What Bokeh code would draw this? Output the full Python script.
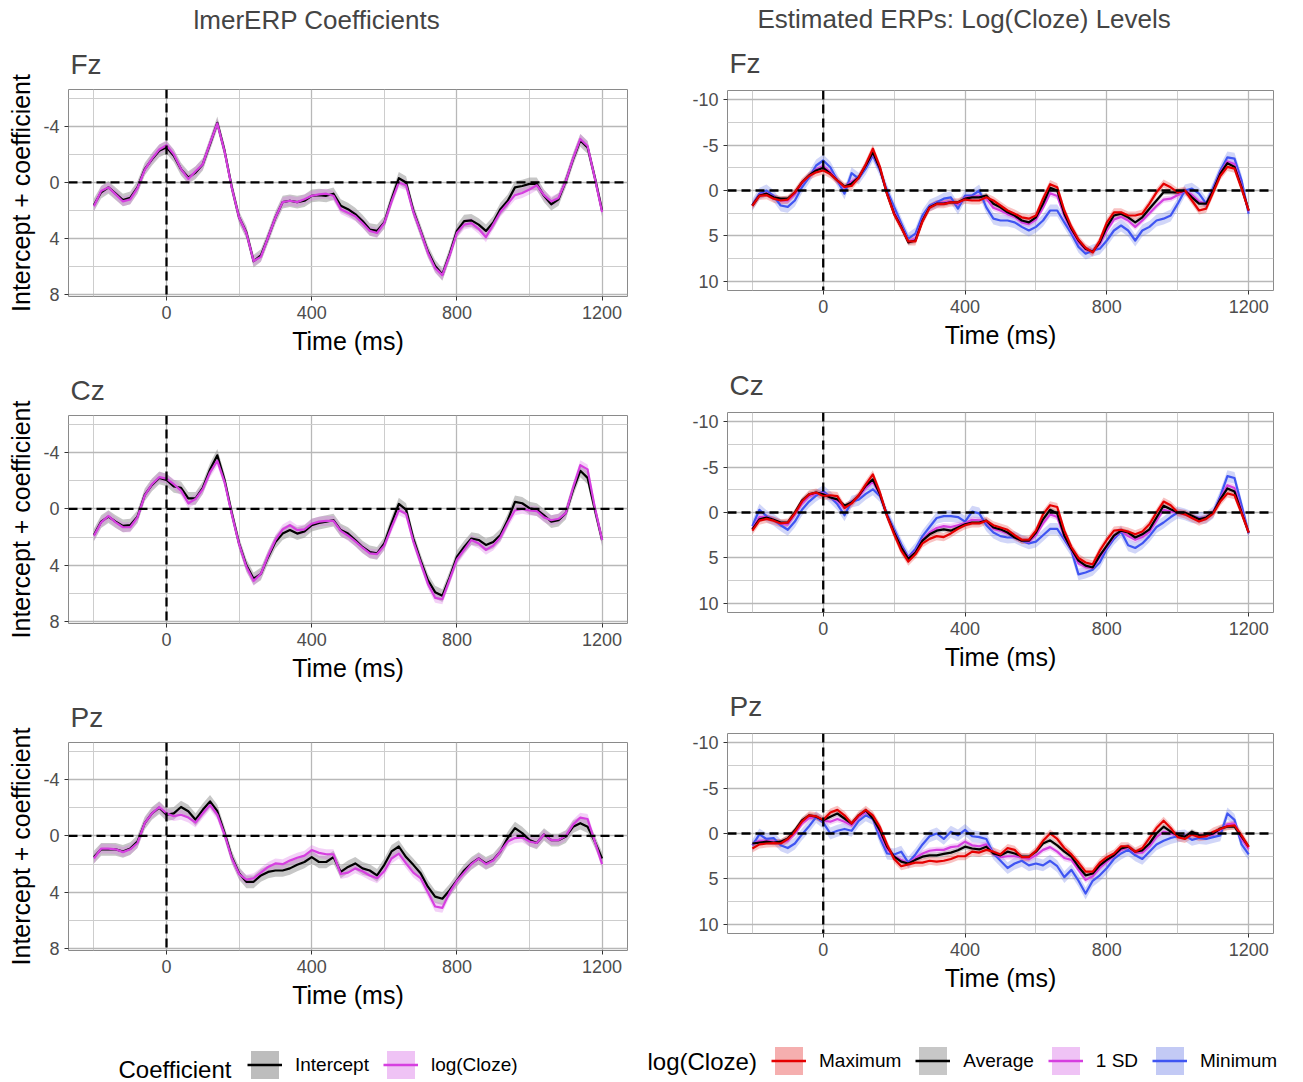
import numpy as np
from bokeh.plotting import figure
from bokeh.models import Range1d, FixedTicker, Span, Title, Legend, LegendItem, Label
from bokeh.layouts import row, column
from bokeh.embed import file_html
from bokeh.resources import INLINE

FONT = "Liberation Sans"

# ---------------- data ----------------
TIME = list(range(-200, 1201, 20))   # ms
X_TICKS = [0, 400, 800, 1200]
X_MINOR = [-200, 200, 600, 1000]
LEFT_Y_TICKS = [-4, 0, 4, 8]
LEFT_Y_MINOR = [-6, -2, 2, 6]
RIGHT_Y_TICKS = [-10, -5, 0, 5, 10]
RIGHT_Y_MINOR = [-7.5, -2.5, 2.5, 7.5]

# lmerERP coefficients (left column)
LFZ_INT = [1.6, 0.7, 0.35, 0.8, 1.25, 1.1, 0.35, -0.95, -1.65, -2.25,
           -2.5, -1.9, -0.95, -0.35, -0.7, -1.3, -2.75, -4.25, -2.25, 0.35,
           2.5, 3.55, 5.6, 5.2, 3.9, 2.5, 1.4, 1.3, 1.4, 1.3,
           0.95, 0.9, 0.95, 0.8, 1.65, 1.9, 2.25, 2.75, 3.35, 3.45,
           2.85, 1.2, -0.3, 0.0, 2.0, 3.45, 4.9, 5.95, 6.55, 5.1,
           3.45, 2.75, 2.7, 3.0, 3.45, 2.85, 1.9, 1.3, 0.35, 0.25,
           0.1, 0.1, 0.95, 1.55, 1.2, -0.1, -1.65, -3.0, -2.5, -0.35,
           2.0]
LFZ_LOG = [1.7, 0.6, 0.35, 0.85, 1.35, 1.2, 0.4, -0.9, -1.7, -2.35,
           -2.65, -2.0, -0.95, -0.25, -0.8, -1.3, -2.8, -4.2, -2.2, 0.4,
           2.5, 3.6, 5.6, 5.3, 3.9, 2.5, 1.4, 1.3, 1.4, 1.2,
           0.95, 0.85, 0.8, 0.95, 1.9, 2.15, 2.4, 2.9, 3.45, 3.6,
           2.9, 1.35, 0.0, 0.2, 2.1, 3.5, 5.0, 6.1, 6.6, 5.2,
           3.6, 3.0, 2.9, 3.3, 3.9, 3.0, 2.1, 1.5, 0.9, 0.75,
           0.5, 0.2, 0.9, 1.35, 1.1, -0.1, -1.7, -3.1, -2.6, -0.3,
           2.1]
LCZ_INT = [1.85, 0.9, 0.55, 0.9, 1.2, 1.15, 0.55, -1.0, -1.7, -2.2,
           -2.05, -1.6, -1.5, -0.75, -0.75, -1.5, -2.8, -3.8, -2.05, 0.3,
           2.45, 4.0, 4.95, 4.6, 3.4, 2.35, 1.75, 1.5, 1.75, 1.6,
           1.15, 1.0, 0.9, 0.8, 1.5, 1.75, 2.2, 2.7, 3.05, 3.15,
           2.45, 1.0, -0.35, 0.05, 2.1, 3.65, 5.05, 5.9, 6.15, 4.85,
           3.4, 2.7, 2.1, 2.2, 2.55, 2.35, 1.85, 0.8, -0.5, -0.4,
           -0.05, 0.05, 0.45, 0.9, 0.8, 0.3, -1.35, -2.7, -2.2, 0.05,
           2.2]
LCZ_LOG = [1.9, 0.95, 0.5, 0.95, 1.3, 1.3, 0.6, -0.95, -1.75, -2.25,
           -2.15, -1.75, -1.3, -0.4, -0.7, -1.4, -2.6, -3.4, -1.9, 0.4,
           2.5, 4.1, 5.1, 4.6, 3.3, 2.2, 1.45, 1.15, 1.5, 1.45,
           1.05, 0.9, 0.85, 0.85, 1.55, 1.9, 2.3, 2.75, 3.15, 3.2,
           2.6, 1.3, 0.1, 0.35, 2.3, 3.8, 5.3, 6.3, 6.4, 5.0,
           3.6, 2.9, 2.2, 2.45, 2.9, 2.6, 2.0, 1.0, 0.1, 0.0,
           0.1, 0.15, 0.6, 0.8, 0.7, 0.3, -1.5, -3.1, -2.8, -0.1,
           2.2]
LPZ_INT = [1.5, 0.95, 0.95, 0.95, 1.1, 0.9, 0.4, -0.9, -1.6, -2.0,
           -1.5, -1.6, -2.05, -1.75, -1.15, -1.85, -2.45, -1.75, -0.2, 1.5,
           2.65, 3.25, 3.25, 2.8, 2.55, 2.45, 2.45, 2.3, 2.05, 1.85,
           1.5, 1.85, 1.85, 1.5, 2.55, 2.2, 1.95, 2.3, 2.45, 2.8,
           2.05, 1.1, 0.75, 1.5, 2.05, 2.65, 3.6, 4.3, 4.45, 3.85,
           3.15, 2.45, 1.95, 1.6, 1.95, 1.7, 1.1, 0.15, -0.55, -0.2,
           0.3, 0.5, -0.1, 0.3, 0.3, 0.05, -0.65, -0.9, -0.65, 0.4,
           1.6]
LPZ_LOG = [1.6, 0.9, 0.9, 0.95, 1.15, 0.95, 0.5, -0.9, -1.6, -2.05,
           -1.6, -1.4, -1.5, -1.3, -0.95, -1.6, -2.2, -1.5, -0.1, 1.6,
           2.7, 3.1, 3.0, 2.6, 2.2, 1.95, 2.0, 1.75, 1.55, 1.4,
           1.0, 1.2, 1.3, 1.3, 2.7, 2.6, 2.3, 2.5, 2.8, 3.0,
           2.5, 1.6, 1.25, 1.95, 2.6, 3.0, 4.0, 5.0, 5.1, 4.0,
           3.2, 2.6, 2.0, 1.6, 2.0, 1.75, 1.1, 0.4, 0.15, 0.1,
           0.4, 0.5, -0.1, 0.3, 0.3, 0.0, -0.8, -1.3, -1.2, 0.4,
           2.0]

# Estimated ERPs by log(cloze) level (right column)
RFZ_MAX = [1.7, 0.6, 0.5, 0.9, 1.1, 1.0, 0.2, -0.9, -1.6, -2.0,
           -2.2, -1.8, -1.1, -0.4, -0.5, -1.4, -2.9, -4.6, -2.6, 0.4,
           2.6, 4.1, 5.6, 5.6, 3.4, 1.9, 1.5, 1.5, 1.3, 1.3,
           1.0, 1.1, 1.1, 0.75, 1.1, 1.65, 2.2, 2.55, 2.95, 3.1,
           2.75, 0.9, -0.7, -0.35, 2.2, 4.0, 5.4, 6.3, 6.8, 5.5,
           3.5, 2.4, 2.4, 2.75, 2.75, 2.55, 1.45, 0.2, -0.75, -0.35,
           0.2, 0.0, 1.1, 2.2, 2.0, 0.2, -1.6, -2.6, -2.4, -0.2,
           2.2]
RFZ_AVG = [1.65, 0.55, 0.35, 0.75, 0.9, 0.9, 0.2, -0.9, -1.65, -2.2,
           -2.5, -1.85, -1.1, -0.45, -0.75, -1.45, -2.75, -4.2, -2.4, 0.35,
           2.55, 4.0, 5.7, 5.5, 3.3, 1.85, 1.45, 1.45, 1.3, 1.3,
           0.9, 0.75, 0.75, 0.55, 1.45, 1.85, 2.4, 2.75, 3.3, 3.5,
           2.95, 1.45, -0.3, 0.0, 2.55, 4.2, 5.5, 6.4, 6.75, 5.7,
           4.0, 2.75, 2.55, 2.95, 3.5, 2.95, 2.0, 1.1, 0.2, 0.2,
           0.2, 0.0, 0.75, 1.45, 1.45, 0.0, -1.85, -3.0, -2.6, -0.35,
           2.2]
RFZ_SD = [1.65, 0.5, 0.3, 0.7, 1.1, 1.1, 0.4, -0.8, -1.6, -2.3,
          -2.7, -2.0, -1.1, -0.3, -1.0, -1.4, -2.7, -4.1, -2.35, 0.3,
          2.4, 3.9, 5.6, 5.3, 3.2, 1.8, 1.4, 1.3, 1.2, 1.5,
          0.8, 0.7, 0.6, 0.9, 1.9, 2.2, 2.6, 2.9, 3.5, 3.7,
          3.2, 1.9, 0.3, 0.6, 2.8, 4.4, 5.7, 6.5, 6.7, 5.9,
          4.4, 3.2, 2.9, 3.3, 4.0, 3.3, 2.5, 1.7, 1.0, 0.9,
          0.5, 0.0, 0.5, 1.2, 1.5, -0.1, -1.95, -3.2, -2.9, -0.5,
          2.3]
RFZ_MIN = [1.6, 0.35, 0.0, 0.6, 1.65, 1.8, 1.1, -0.35, -1.45, -2.75,
           -3.3, -2.55, -1.1, 0.35, -1.9, -1.3, -2.4, -3.85, -2.2, 0.0,
           1.8, 3.6, 5.3, 4.75, 2.75, 1.65, 1.3, 0.9, 0.75, 2.0,
           0.55, 0.55, 0.0, 1.85, 3.1, 3.3, 3.3, 3.5, 4.0, 4.4,
           4.0, 3.3, 2.2, 2.2, 3.5, 4.75, 6.2, 6.95, 6.6, 6.4,
           5.5, 4.4, 3.85, 4.4, 5.5, 4.4, 4.0, 3.3, 3.1, 2.75,
           1.45, 0.0, -0.2, 0.35, 1.45, -0.35, -2.2, -3.65, -3.5, -1.1,
           2.55]
RCZ_MAX = [2.0, 0.9, 0.7, 0.9, 1.2, 1.1, 0.1, -1.2, -2.0, -2.2,
           -1.8, -1.9, -1.8, -0.5, -1.0, -1.9, -3.1, -4.2, -2.2, 0.4,
           2.4, 4.2, 5.4, 4.6, 3.4, 2.9, 2.6, 2.7, 2.3, 1.8,
           1.4, 1.2, 1.2, 0.9, 1.4, 1.65, 1.9, 2.5, 3.0, 3.0,
           2.0, 0.2, -0.8, -0.6, 2.0, 3.8, 5.0, 5.5, 5.7, 4.2,
           3.0, 2.0, 1.9, 2.1, 2.4, 2.1, 1.3, 0.0, -1.2, -0.8,
           0.0, 0.2, 0.6, 1.0, 0.7, 0.1, -1.2, -2.1, -1.9, 0.1,
           2.2]
RCZ_AVG = [1.85, 0.75, 0.55, 0.8, 1.1, 1.1, 0.0, -1.3, -2.0, -2.2,
           -2.0, -1.65, -1.45, -0.75, -1.1, -1.85, -2.95, -3.65, -2.0, 0.35,
           2.2, 3.85, 5.1, 4.4, 3.1, 2.4, 2.0, 1.85, 2.0, 1.65,
           1.3, 1.1, 1.1, 0.9, 1.65, 1.85, 2.2, 2.75, 3.1, 3.1,
           2.2, 0.75, -0.3, 0.1, 2.55, 4.0, 5.3, 5.85, 6.05, 4.75,
           3.65, 2.55, 2.0, 2.2, 2.75, 2.4, 1.85, 0.55, -0.75, -0.35,
           0.0, 0.0, 0.35, 0.75, 0.55, 0.0, -1.45, -2.65, -2.3, 0.0,
           2.2]
RCZ_SD = [1.8, 0.5, 0.5, 0.8, 1.2, 1.3, 0.2, -1.0, -1.8, -2.1,
          -2.1, -1.65, -1.3, -0.5, -1.1, -1.75, -2.7, -3.4, -1.95, 0.3,
          2.1, 3.8, 5.0, 4.3, 3.0, 2.2, 1.7, 1.5, 1.6, 1.4,
          1.2, 0.8, 0.85, 1.0, 1.8, 2.0, 2.3, 2.75, 3.1, 3.2,
          2.5, 1.2, 0.2, 0.5, 2.7, 4.1, 5.6, 6.0, 6.1, 4.9,
          3.75, 2.65, 2.0, 2.6, 3.0, 2.7, 2.1, 0.9, -0.3, -0.1,
          0.0, 0.05, 0.4, 0.7, 0.55, 0.0, -1.55, -3.0, -2.7, -0.2,
          2.2]
RCZ_MIN = [1.5, -0.3, 0.4, 0.8, 1.4, 1.9, 1.0, -0.3, -1.2, -1.85,
           -2.35, -1.7, -0.9, 0.3, -1.2, -1.4, -2.05, -2.55, -1.8, 0.2,
           1.8, 3.5, 4.9, 4.0, 2.6, 1.6, 0.6, 0.4, 0.4, 0.5,
           1.0, -0.1, 0.1, 1.4, 2.2, 2.6, 2.75, 2.7, 3.1, 3.4,
           3.2, 2.5, 1.8, 1.8, 3.0, 4.2, 6.8, 6.6, 6.3, 5.5,
           4.0, 2.9, 2.1, 3.6, 3.9, 3.4, 2.6, 1.6, 1.1, 0.5,
           0.0, 0.2, 0.5, 0.6, 0.6, 0.0, -1.8, -4.0, -3.8, -0.8,
           2.3]
RPZ_MAX = [1.65, 1.2, 1.1, 1.05, 1.1, 0.6, -0.2, -1.3, -2.0, -1.9,
           -1.5, -2.3, -2.6, -2.0, -1.1, -2.0, -2.6, -2.0, -0.7, 1.2,
           2.8, 3.6, 3.4, 3.2, 3.2, 3.0, 3.1, 3.0, 2.8, 2.5,
           2.5, 2.0, 2.1, 1.8, 2.0, 2.3, 1.6, 1.8, 2.6, 2.6,
           1.9, 0.8, 0.0, 0.6, 1.6, 2.3, 3.2, 4.2, 4.2, 3.2,
           2.6, 2.2, 1.4, 1.4, 2.0, 1.6, 0.5, -0.6, -1.4, -0.6,
           0.4, 0.6, 0.1, 0.4, 0.3, -0.2, -0.5, -0.8, -0.9, 0.2,
           1.5]
RPZ_AVG = [1.1, 1.0, 0.9, 1.0, 0.9, 0.55, -0.35, -1.45, -2.0, -1.85,
           -1.45, -1.85, -2.2, -1.65, -1.1, -2.0, -2.55, -1.65, -0.35, 1.45,
           2.55, 3.1, 3.3, 2.9, 2.55, 2.4, 2.4, 2.25, 2.1, 1.85,
           1.45, 1.65, 1.75, 1.45, 2.2, 2.4, 2.0, 2.2, 2.5, 2.55,
           2.0, 1.1, 0.75, 1.3, 2.0, 2.55, 3.65, 4.6, 4.4, 3.5,
           2.9, 2.4, 1.65, 1.45, 2.0, 1.85, 1.1, 0.0, -0.75, -0.2,
           0.2, 0.35, -0.2, 0.2, 0.2, 0.0, -0.55, -0.75, -0.75, 0.35,
           1.45]
RPZ_SD = [1.2, 0.8, 0.8, 0.9, 1.0, 0.8, 0.0, -1.1, -1.7, -1.85,
          -1.4, -1.3, -1.6, -1.3, -0.9, -1.8, -2.4, -1.7, -0.1, 1.7,
          2.5, 2.9, 3.3, 2.7, 2.2, 1.9, 1.8, 1.8, 1.5, 1.4,
          0.9, 1.3, 1.4, 1.2, 2.2, 2.6, 2.5, 2.5, 2.6, 2.8,
          2.4, 1.8, 1.5, 2.0, 2.7, 2.9, 4.0, 5.1, 4.7, 3.8,
          3.1, 2.5, 1.8, 1.5, 2.1, 2.1, 1.4, 0.4, -0.2, 0.0,
          0.25, 0.3, 0.1, 0.3, 0.3, 0.1, -0.4, -1.0, -1.1, 0.6,
          1.7]
RPZ_MIN = [1.3, 0.1, 0.6, 0.5, 1.3, 1.6, 1.1, 0.1, -0.8, -1.8,
           -1.2, 0.0, -0.3, -0.5, -0.3, -1.4, -2.0, -1.6, 0.5, 2.2,
           2.3, 2.0, 3.2, 2.3, 1.2, 0.3, 0.0, 0.6, -0.2, 0.2,
           -0.4, 0.3, 0.4, 0.6, 2.2, 3.0, 3.8, 3.3, 3.0, 3.5,
           3.3, 3.5, 3.0, 3.6, 4.8, 4.0, 5.2, 6.6, 5.2, 4.6,
           3.8, 2.8, 2.2, 1.8, 2.4, 2.8, 2.0, 1.2, 0.8, 0.5,
           0.3, 0.2, 0.7, 0.5, 0.6, 0.4, 0.2, -2.2, -1.5, 1.2,
           2.3]

# half-widths of the confidence ribbons (uV)
CI_LEFT = {"Intercept": 0.45, "log(Cloze)": 0.35}
CI_RIGHT = {"Maximum": 0.45, "Average": 0.3, "1 SD": 0.35, "Minimum": 0.65}

for arr in [LFZ_INT, LFZ_LOG, LCZ_INT, LCZ_LOG, LPZ_INT, LPZ_LOG,
            RFZ_MAX, RFZ_AVG, RFZ_SD, RFZ_MIN, RCZ_MAX, RCZ_AVG, RCZ_SD, RCZ_MIN,
            RPZ_MAX, RPZ_AVG, RPZ_SD, RPZ_MIN]:
    assert len(arr) == len(TIME), len(arr)

# ---------------- styles ----------------
C_BLACK = "#000000"
C_MAG = "#D63FE0"
C_RED = "#E50000"
C_BLUE = "#3F55F2"
BAND = {
    "Intercept": ("#999999", 0.55),
    "log(Cloze)": ("#DA70E6", 0.32),
    "Maximum": ("#E84040", 0.32),
    "Average": ("#999999", 0.45),
    "1 SD": ("#DA70E6", 0.32),
    "Minimum": ("#6F80E8", 0.32),
}
LINE = {"Intercept": C_BLACK, "log(Cloze)": C_MAG, "Maximum": C_RED,
        "Average": C_BLACK, "1 SD": C_MAG, "Minimum": C_BLUE}
DASH = "9 5"


def style(p):
    p.outline_line_color = "#8A8A8A"
    p.outline_line_width = 1
    for ax in p.axis:
        ax.axis_line_color = None
        ax.major_tick_line_color = "#333333"
        ax.major_tick_out = 4
        ax.major_tick_in = 0
        ax.minor_tick_line_color = None
        ax.major_label_text_font = FONT
        ax.major_label_text_font_size = "18px"
        ax.major_label_text_color = "#4D4D4D"
        ax.axis_label_text_font = FONT
        ax.axis_label_text_font_size = "25px"
        ax.axis_label_text_font_style = "normal"
        ax.axis_label_text_color = "black"
    p.grid.grid_line_color = "#B8B8B8"
    p.grid.grid_line_width = 1.3
    p.grid.minor_grid_line_color = "#CDCDCD"
    p.grid.minor_grid_line_width = 1


def panel(name, width, height, bl, br, bt, bb, yr, yt, ym, ylabel, series,
          name_standoff, coltitle=None, ct_offset=0, ct_standoff=8):
    p = figure(width=width, height=height, title=coltitle if coltitle else name,
               x_range=Range1d(-270, 1270), y_range=Range1d(yr[0], yr[1]),
               output_backend="svg", toolbar_location=None,
               min_border_left=bl, min_border_right=br,
               min_border_top=bt, min_border_bottom=bb)
    p.title.text_font = FONT
    p.title.text_font_style = "normal"
    p.title.align = "left"
    if coltitle:
        p.title.text_font_size = "26px"
        p.title.offset = ct_offset
        p.title.standoff = ct_standoff
        p.add_layout(Title(text=name, text_font=FONT, text_font_size="28px",
                           text_font_style="normal", align="left", offset=2,
                           standoff=name_standoff), "above")
    else:
        p.title.text_font_size = "28px"
        p.title.offset = 2
        p.title.standoff = name_standoff
    xt = FixedTicker(ticks=X_TICKS, minor_ticks=X_MINOR)
    ytk = FixedTicker(ticks=yt, minor_ticks=ym)
    p.xaxis.ticker = xt
    p.xgrid.ticker = xt
    p.yaxis.ticker = ytk
    p.ygrid.ticker = ytk
    p.yaxis.major_label_overrides = {v: str(v) for v in yt}
    p.xaxis.major_label_overrides = {v: str(v) for v in X_TICKS}
    p.xaxis.axis_label = "Time (ms)"
    p.xaxis.axis_label_standoff = 5
    if ylabel:
        p.yaxis.axis_label = ylabel
        p.yaxis.axis_label_standoff = 5
    style(p)
    t = np.array(TIME)
    for key, vals, hw in series:
        v = np.array(vals)
        col, al = BAND[key]
        p.varea(x=t, y1=v - hw, y2=v + hw, fill_color=col, fill_alpha=al)
    for key, vals, hw in series:
        p.line(t, vals, line_color=LINE[key], line_width=2.2, line_join="round")
    p.add_layout(Span(location=0, dimension="width", line_color="black",
                      line_width=2.3, line_dash=DASH))
    p.add_layout(Span(location=0, dimension="height", line_color="black",
                      line_width=2.3, line_dash=DASH))
    return p


LYR = (8.12, -6.62)
RYR = (11.0, -11.0)
YL = "Intercept + coefficient"


def left_series(a, b):
    return [("Intercept", a, CI_LEFT["Intercept"]), ("log(Cloze)", b, CI_LEFT["log(Cloze)"])]


def right_series(mx, av, sd, mn):
    return [("Minimum", mn, CI_RIGHT["Minimum"]), ("1 SD", sd, CI_RIGHT["1 SD"]),
            ("Average", av, CI_RIGHT["Average"]), ("Maximum", mx, CI_RIGHT["Maximum"])]


lfz = panel("Fz", 645, 360, 68, 18, 88, 64, LYR, LEFT_Y_TICKS, LEFT_Y_MINOR, YL,
            left_series(LFZ_INT, LFZ_LOG), 20, "lmerERP Coefficients", 125, 4)
lcz = panel("Cz", 645, 327, 68, 18, 55, 64, LYR, LEFT_Y_TICKS, LEFT_Y_MINOR, YL,
            left_series(LCZ_INT, LCZ_LOG), 20)
lpz = panel("Pz", 645, 327, 68, 18, 55, 64, LYR, LEFT_Y_TICKS, LEFT_Y_MINOR, YL,
            left_series(LPZ_INT, LPZ_LOG), 20)

rfz = panel("Fz", 658, 354, 82, 30, 90, 64, RYR, RIGHT_Y_TICKS, RIGHT_Y_MINOR, None,
            right_series(RFZ_MAX, RFZ_AVG, RFZ_SD, RFZ_MIN), 23,
            "Estimated ERPs: Log(Cloze) Levels", 30, 1)
rcz = panel("Cz", 658, 322, 82, 30, 58, 64, RYR, RIGHT_Y_TICKS, RIGHT_Y_MINOR, None,
            right_series(RCZ_MAX, RCZ_AVG, RCZ_SD, RCZ_MIN), 24)
rpz = panel("Pz", 658, 338, 82, 30, 57, 81, RYR, RIGHT_Y_TICKS, RIGHT_Y_MINOR, None,
            right_series(RPZ_MAX, RPZ_AVG, RPZ_SD, RPZ_MIN), 24)


def legend_fig(width, height, title, keys, key_data, title_x, title_y, lx, ly, gh):
    # the key renderers use real series but sit outside the visible x range
    f = figure(width=width, height=height, output_backend="svg", toolbar_location=None,
               x_range=Range1d(-3000, -2900), y_range=Range1d(0, 1),
               min_border=0, min_border_left=0, min_border_right=0,
               min_border_top=0, min_border_bottom=0)
    f.axis.visible = False
    f.grid.visible = False
    f.outline_line_color = None
    items = []
    t = np.array(TIME)
    for k, vals in zip(keys, key_data):
        col, al = BAND[k]
        v = np.array(vals)
        rb = f.varea(x=t, y1=v - 0.3, y2=v + 0.3, fill_color=col, fill_alpha=min(1.0, al + 0.1))
        rl = f.line(t, vals, line_color=LINE[k], line_width=2.5)
        items.append(LegendItem(label=k, renderers=[rb, rl]))
    leg = Legend(items=items, orientation="horizontal", location=(lx, ly),
                 glyph_width=35, glyph_height=gh, label_standoff=13, spacing=14,
                 padding=0, margin=0, border_line_color=None, background_fill_alpha=0,
                 label_text_font=FONT, label_text_font_size="19px", label_text_color="black")
    f.add_layout(leg)
    f.add_layout(Label(x=title_x, y=title_y, x_units="screen", y_units="screen", text=title,
                       text_font=FONT, text_font_size="24px", text_baseline="middle",
                       text_color="black"))
    return f


legl = legend_fig(645, 68, "Coefficient", ["Intercept", "log(Cloze)"], [LFZ_INT, LFZ_LOG],
                  118, 13, 247, 0, 35)
legr = legend_fig(658, 68, "log(Cloze)", ["Maximum", "Average", "1 SD", "Minimum"],
                  [RFZ_MAX, RFZ_AVG, RFZ_SD, RFZ_MIN], 2, 21, 126, 4, 35)

top = row(column(lfz, lcz, lpz), column(rfz, rcz, rpz))
layout = column(top, row(legl, legr))
open("out.html", "w").write(file_html(layout, INLINE))
